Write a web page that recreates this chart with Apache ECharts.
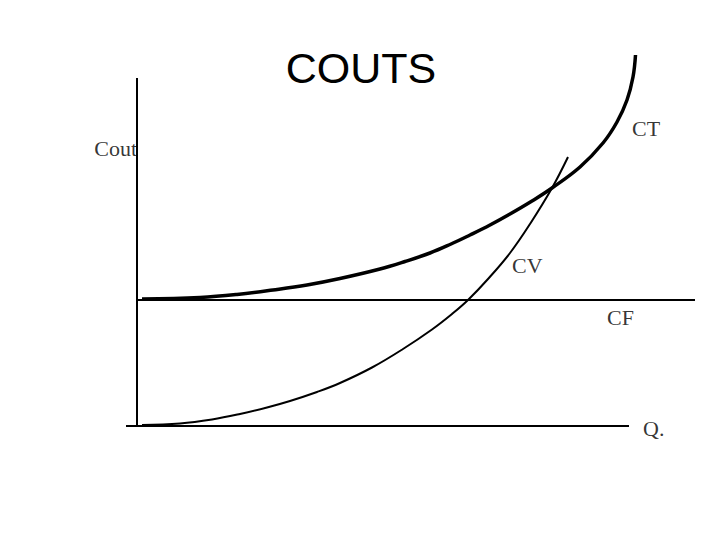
<!DOCTYPE html>
<html>
<head>
<meta charset="utf-8">
<script src="https://cdn.jsdelivr.net/npm/echarts@6/dist/echarts.min.js"></script>
<style>html,body{margin:0;padding:0;background:#fff}#chart{width:720px;height:540px}</style>
</head>
<body>
<div id="chart"></div>
<script>
// Data in chart units (quantity on x, cost on y)
var titleText = 'COUTS';
var ctCurve = [[0.1,2.54],[1.26,2.57],[2.0,2.63],[2.72,2.72],[3.4,2.82],[4.06,2.95],[4.86,3.14],[5.36,3.29],[5.86,3.46],[6.26,3.63],[6.66,3.82],[7.06,4.02],[7.46,4.24],[7.9,4.50],[8.30,4.76],[8.86,5.18],[9.32,5.66],[9.60,6.08],[9.80,6.52],[9.92,6.98],[9.97,7.42]];
var cvCurve = [[0.1,0.02],[0.86,0.05],[1.5,0.13],[2.06,0.24],[2.6,0.37],[3.06,0.50],[3.6,0.68],[4.06,0.86],[4.7,1.17],[5.32,1.54],[5.9,1.93],[6.3,2.24],[6.62,2.52],[7.02,2.94],[7.46,3.46],[7.86,4.04],[8.30,4.76],[8.62,5.38]];
var cfLevel = 2.52;
var cfRange = [0, 11.16];
var costAxisRange = [0, 6.96];
var qAxisRange = [-0.22, 9.84];
var labelNames = ['Cout','CT','CV','CF','Q.'];
var labelX = [0, 9.9, 7.5, 9.4, 10.12];
var labelY = [5.56, 5.96, 3.22, 2.18, -0.04];
var labelAlign = ['right','left','left','left','left'];

var chart = echarts.init(document.getElementById('chart'), null, {renderer:'svg'});
var serif = '"Liberation Serif","Times New Roman",serif';
var labelData = labelNames.map(function(n,i){
  return {value:[labelX[i],labelY[i]], name:n, label:{align:labelAlign[i]}};
});
chart.setOption({
  animation:false,
  backgroundColor:'#fff',
  grid:{left:0,right:0,top:0,bottom:0},
  xAxis:{type:'value',min:-2.74,max:11.66,show:false},
  yAxis:{type:'value',min:-2.28,max:8.52,show:false},
  graphic:[{type:'text',x:361,y:68,style:{text:titleText,fill:'#000',font:'43px "Liberation Sans", Arial, sans-serif',textAlign:'center',textVerticalAlign:'middle'}}],
  series:[
    {type:'line',name:'costAxis',data:[[0,costAxisRange[0]],[0,costAxisRange[1]]],showSymbol:false,lineStyle:{color:'#000',width:2},silent:true},
    {type:'line',name:'qAxis',data:[[qAxisRange[0],0],[qAxisRange[1],0]],showSymbol:false,lineStyle:{color:'#000',width:2},silent:true},
    {type:'line',name:'CF',data:[[cfRange[0],cfLevel],[cfRange[1],cfLevel]],showSymbol:false,lineStyle:{color:'#000',width:2},silent:true},
    {type:'line',name:'CT',data:ctCurve,smooth:0.4,showSymbol:false,lineStyle:{color:'#000',width:3.5},silent:true},
    {type:'line',name:'CV',data:cvCurve,smooth:0.4,showSymbol:false,lineStyle:{color:'#000',width:2},silent:true},
    {type:'scatter',name:'labels',data:labelData,symbolSize:0,silent:true,
     label:{show:true,position:'inside',formatter:'{b}',color:'#000',fontFamily:serif,fontSize:22,verticalAlign:'middle'}}
  ]
});
</script>
</body>
</html>
